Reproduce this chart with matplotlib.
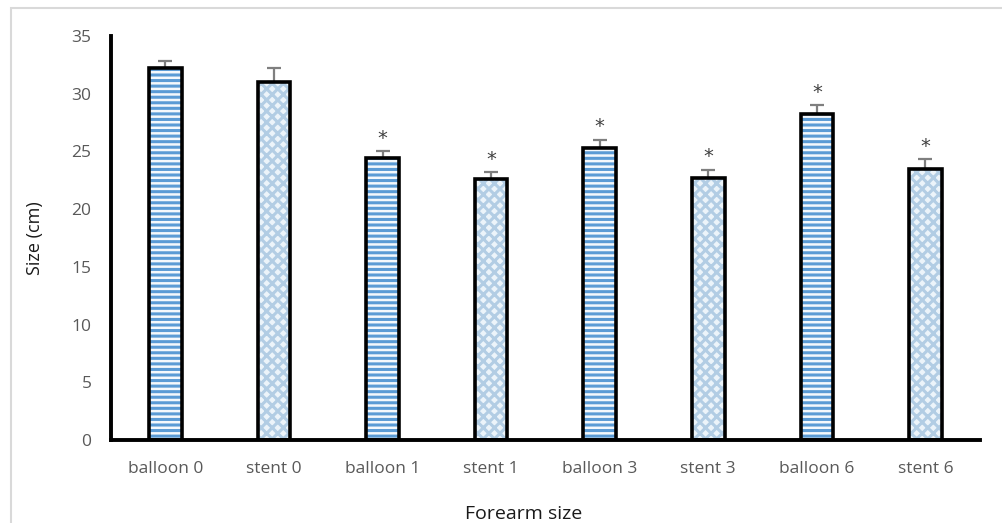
import matplotlib
matplotlib.use("Agg")
import matplotlib.pyplot as plt
from matplotlib.patches import Rectangle

categories = ["balloon 0", "stent 0", "balloon 1", "stent 1",
              "balloon 3", "stent 3", "balloon 6", "stent 6"]
values = [32.2, 31.0, 24.4, 22.6, 25.3, 22.7, 28.2, 23.5]
errors = [0.6, 1.2, 0.6, 0.6, 0.7, 0.7, 0.8, 0.8]
significant = [False, False, True, True, True, True, True, True]
y_ticks = [0, 5, 10, 15, 20, 25, 30, 35]

plt.rcParams['font.family'] = ['Open Sans', 'DejaVu Sans']
plt.rcParams['hatch.linewidth'] = 2.2

fig = plt.figure(figsize=(10.02, 5.23), dpi=100)
ax = fig.add_axes([0.1108, 0.1587, 0.867, 0.7725])

x = list(range(len(categories)))
width = 0.3
for i, (v, c) in enumerate(zip(values, categories)):
    if c.startswith("balloon"):
        ax.bar(i, v, width=width, color='#f4f8fc', edgecolor='#5b9bd5',
               hatch='---', linewidth=0, zorder=2)
    else:
        ax.bar(i, v, width=width, color='#ecf4fa', edgecolor='#b2cde4',
               hatch='xxx', linewidth=0, zorder=2)
    ax.bar(i, v, width=width, fill=False, edgecolor='black',
           linewidth=2.6, zorder=3)

ax.errorbar(x, values, yerr=[[0] * len(values), errors], fmt='none',
            ecolor='#7f7f7f', elinewidth=1.6, capsize=5, capthick=1.6, zorder=1)

for i, (v, e, s) in enumerate(zip(values, errors, significant)):
    if s:
        ax.text(i, v + e + 0.3, '*', ha='center', va='bottom',
                fontsize=14, color='#404040', family='DejaVu Sans')

ax.set_xlim(-0.5, len(categories) - 0.5)
ax.set_ylim(0, 35)
ax.set_yticks(y_ticks)
ax.set_xticks(x)
ax.set_xticklabels(categories)
ax.tick_params(axis='both', length=0, colors='#595959', labelsize=12.5)
ax.tick_params(axis='y', pad=14)
ax.tick_params(axis='x', pad=15)
for sp in ['top', 'right']:
    ax.spines[sp].set_visible(False)
for sp in ['left', 'bottom']:
    ax.spines[sp].set_linewidth(2.8)
    ax.spines[sp].set_color('black')

ax.set_ylabel('Size (cm)', fontsize=13, color='#1a1a1a', labelpad=20)
fig.text(0.523, 0.0, 'Forearm size', ha='center', va='bottom',
         fontsize=14, color='#1a1a1a')

fig.patches.append(Rectangle((11 / 1002, -0.01), 1.0, 1 - 8 / 523 + 0.01,
                             transform=fig.transFigure, fill=False,
                             edgecolor='#d9d9d9', linewidth=1.5))

fig.savefig('out.png', dpi=100)
